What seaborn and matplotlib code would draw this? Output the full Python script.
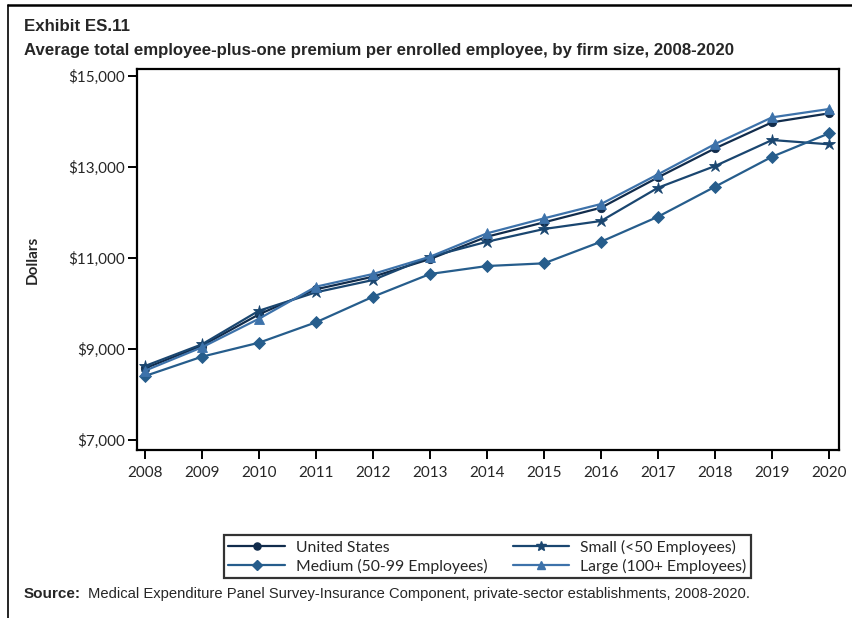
import matplotlib
matplotlib.use("Agg")
import matplotlib.pyplot as plt
import matplotlib.lines as mlines
import seaborn as sns
import pandas as pd

years = list(range(2008, 2021))
united_states = [8575, 9071, 9760, 10310, 10586, 10975, 11465, 11780, 12101, 12768, 13405, 13977, 14174]
small = [8625, 9102, 9840, 10244, 10514, 11025, 11355, 11634, 11810, 12541, 13017, 13588, 13494]
medium = [8405, 8830, 9137, 9585, 10147, 10646, 10821, 10880, 11355, 11904, 12563, 13221, 13735]
large = [8522, 9036, 9664, 10367, 10646, 11025, 11539, 11868, 12183, 12835, 13500, 14086, 14269]

series_names = ["United States", "Small (<50 Employees)",
                "Medium (50-99 Employees)", "Large (100+ Employees)"]
y_ticks = [7000, 9000, 11000, 13000, 15000]
y_tick_labels = ["$7,000", "$9,000", "$11,000", "$13,000", "$15,000"]

rows = []
for name, vals in zip(series_names, [united_states, small, medium, large]):
    for yr, v in zip(years, vals):
        rows.append({"Year": yr, "Premium": v, "Series": name})
df = pd.DataFrame(rows)

sns.set_theme(style="white")
plt.rcParams["font.family"] = ["Lato", "DejaVu Sans"]

palette = {
    "United States": "#112c4c",
    "Small (<50 Employees)": "#1a4670",
    "Medium (50-99 Employees)": "#265d8c",
    "Large (100+ Employees)": "#3d72aa",
}
markers = {
    "United States": "o",
    "Small (<50 Employees)": "*",
    "Medium (50-99 Employees)": "D",
    "Large (100+ Employees)": "^",
}
msizes = {
    "United States": 6,
    "Small (<50 Employees)": 9,
    "Medium (50-99 Employees)": 6.5,
    "Large (100+ Employees)": 7,
}

fig = plt.figure(figsize=(8.52, 6.18), dpi=100)
ax = fig.add_axes([0.1608, 0.2718, 0.8240, 0.6165])

sns.lineplot(data=df, x="Year", y="Premium", hue="Series", style="Series",
             hue_order=series_names, style_order=series_names,
             palette=palette, markers=markers, dashes=False,
             linewidth=1.6, markersize=7, markeredgewidth=0.6,
             legend=False, ax=ax)

# Per-series marker sizes
for line, name in zip(ax.get_lines(), series_names):
    line.set_markersize(msizes[name])
    line.set_markeredgecolor(palette[name])

ax.set_xlim(2007.86, 2020.175)
ax.set_ylim(6780, 15147)
ax.set_xticks(years)
ax.set_xticklabels([str(y) for y in years], fontsize=11)
ax.set_yticks(y_ticks)
ax.set_yticklabels(y_tick_labels, fontsize=11)
ax.set_xlabel("")
ax.set_ylabel("Dollars", fontsize=11, fontweight="bold")
ax.yaxis.set_label_coords(-0.138, 0.5)
ax.tick_params(axis="both", direction="out", length=6.5, width=1.4,
               color="black", bottom=True, left=True)
ax.tick_params(axis="y", pad=2)
ax.tick_params(axis="x", pad=5)
for sp in ax.spines.values():
    sp.set_color("black")
    sp.set_linewidth(1.6)

# Titles
title_font = ["Liberation Sans Narrow", "Liberation Sans", "DejaVu Sans"]
fig.text(0.028, 0.957, "Exhibit ES.11", fontsize=12.2, fontweight="bold",
         family=title_font, va="center", ha="left")
fig.text(0.028, 0.919,
         "Average total employee-plus-one premium per enrolled employee, by firm size, 2008-2020",
         fontsize=12.1, fontweight="bold", family=title_font, va="center", ha="left")

# Legend: row-wise order (US, Small / Medium, Large) with a two-column layout
order = ["United States", "Medium (50-99 Employees)",
         "Small (<50 Employees)", "Large (100+ Employees)"]
handles = [mlines.Line2D([], [], color=palette[n], marker=markers[n],
                         markersize=msizes[n] * 0.85, linewidth=1.6,
                         markeredgecolor=palette[n]) for n in order]
leg = fig.legend(handles, order, ncol=2, loc="center",
                 bbox_to_anchor=(0.572, 0.0995), frameon=True,
                 fontsize=11.3, handlelength=3.6, columnspacing=1.6,
                 borderpad=0.3, labelspacing=0.25, handletextpad=0.7,
                 fancybox=False)
leg.get_frame().set_edgecolor("black")
leg.get_frame().set_linewidth(1.6)

# Source note
fig.text(0.028, 0.039, "Source:", fontsize=11, fontweight="bold",
         family=["Liberation Sans", "DejaVu Sans"], va="center", ha="left")
fig.text(0.1035, 0.039,
         "Medical Expenditure Panel Survey-Insurance Component, private-sector establishments, 2008-2020.",
         fontsize=10.6, family=["Liberation Sans", "DejaVu Sans"], va="center", ha="left")

# Outer frame lines along top and left
fig.add_artist(mlines.Line2D([0.009, 1.0], [0.9925, 0.9925], color="black",
                             linewidth=1.8, transform=fig.transFigure))
fig.add_artist(mlines.Line2D([0.009, 0.009], [0.0, 0.9925], color="black",
                             linewidth=1.2, transform=fig.transFigure))

fig.savefig("out.png", dpi=100)
